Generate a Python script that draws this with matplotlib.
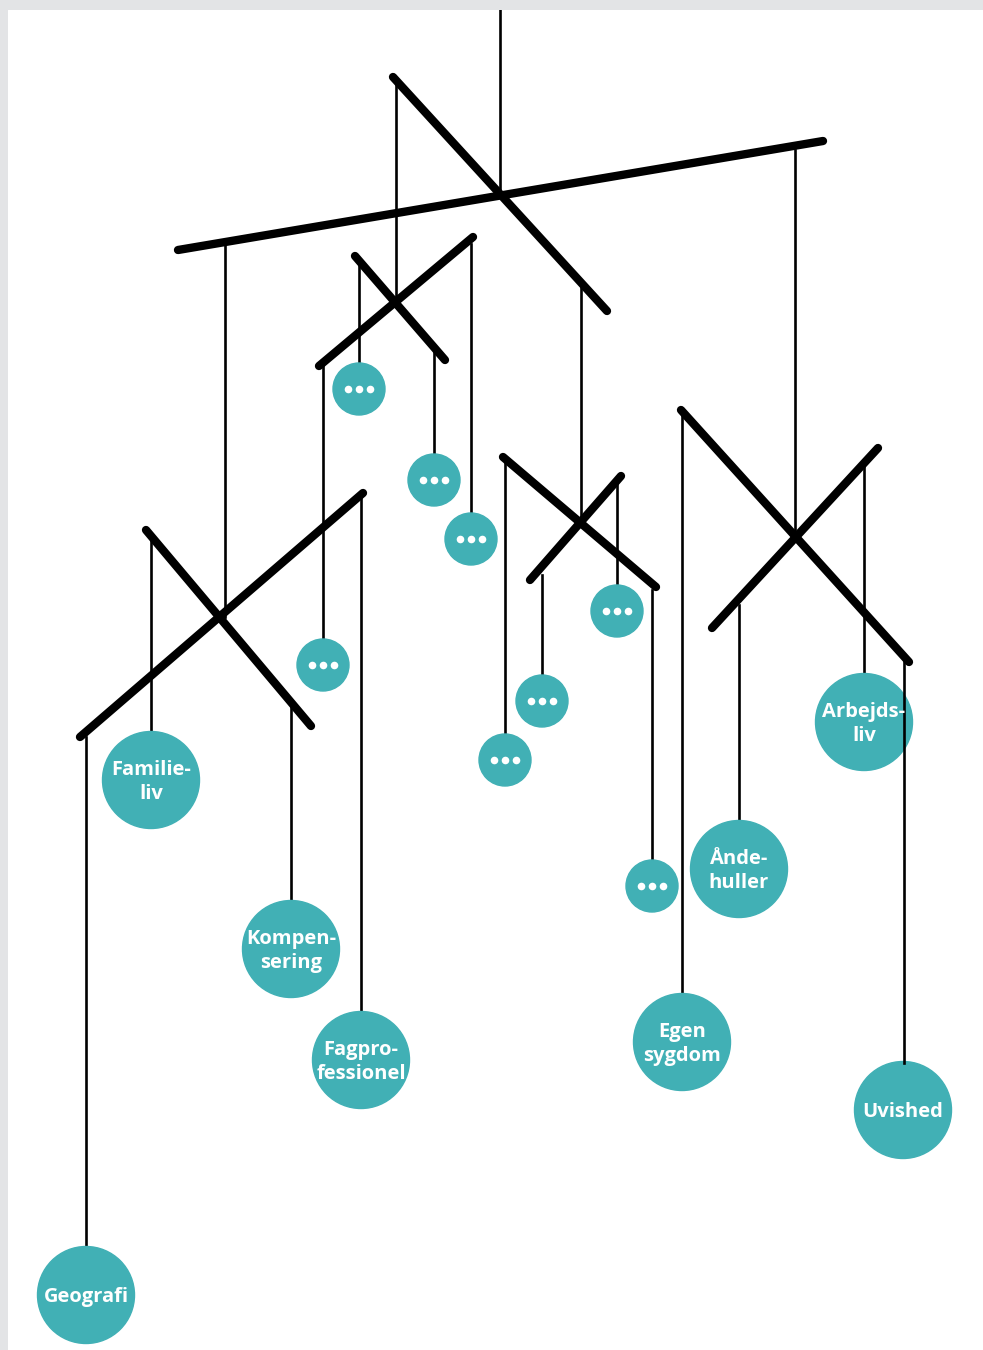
#!/usr/bin/env python3
import matplotlib.pyplot as plt
from matplotlib.patches import Circle

W, H = 983, 1350
TEAL = "#41b0b5"
GREY = "#e3e4e6"

# crossbars: (x0, y0, x1, y1) in picture pixels
bars = [
    (178, 250, 823, 141),
    (393, 77, 607, 311),
    (319, 366, 473, 237),
    (355, 256, 445, 360),
    (80, 737, 363, 493),
    (146, 530, 311, 726),
    (503, 457, 656, 587),
    (530, 580, 621, 476),
    (681, 410, 909, 662),
    (712, 628, 878, 448),
]

# hanging strings: (x, y_top, y_bottom)
strings = [
    (500, 10, 193),
    (225, 242, 617),
    (795, 150, 537),
    (396, 82, 302),
    (581, 288, 522),
    (359, 262, 389),
    (434, 352, 480),
    (471, 244, 539),
    (323, 366, 665),
    (86, 737, 1295),
    (151, 540, 780),
    (291, 706, 949),
    (361, 498, 1060),
    (505, 462, 760),
    (542, 575, 701),
    (617, 483, 611),
    (652, 590, 886),
    (682, 415, 1042),
    (739, 605, 869),
    (864, 466, 722),
]
# the Uvished string sits in front of the Arbejdsliv ball
front_strings = [(904, 655, 1063)]

labels = ["Geografi", "Familie-\nliv", "Kompen-\nsering", "Fagpro-\nfessionel",
          "Egen\nsygdom", "Ånde-\nhuller", "Arbejds-\nliv", "Uvished"]
label_x = [86, 151, 291, 361, 682, 739, 864, 903]
label_y = [1295, 780, 949, 1060, 1042, 869, 722, 1110]

dots_x = [359, 434, 471, 323, 505, 542, 617, 652]
dots_y = [389, 480, 539, 665, 760, 701, 611, 886]


def main():
    fig = plt.figure(figsize=(W / 100, H / 100), dpi=100, facecolor=GREY)
    ax = fig.add_axes([8 / W, 0, (W - 8) / W, (H - 10) / H])
    ax.set_xlim(8, W)
    ax.set_ylim(H, 10)
    ax.axis("off")
    ax.add_patch(plt.Rectangle((8, 10), W - 8, H - 10, color="white", zorder=0))

    for x, y0, y1 in strings:
        ax.plot([x, x], [y0, y1], color="black", lw=1.9, zorder=1)
    for x0, y0, x1, y1 in bars:
        ax.plot([x0, x1], [y0, y1], color="black", lw=6, solid_capstyle="round", zorder=2)

    for x, y, t in zip(label_x, label_y, labels):
        ax.add_patch(Circle((x, y), 48.5, color=TEAL, zorder=3))
        ax.text(x, y + 2, t, ha="center", va="center", color="white", fontsize=14.5,
                fontweight="bold", family="Open Sans", linespacing=1.32, zorder=5)

    for x, y in zip(dots_x, dots_y):
        ax.add_patch(Circle((x, y), 26, color=TEAL, zorder=3))
        ax.scatter([x - 11, x, x + 11], [y, y, y], s=30, color="white", zorder=4, linewidths=0)

    for x, y0, y1 in front_strings:
        ax.plot([x, x], [y0, y1], color="black", lw=1.9, zorder=4)

    fig.savefig("out.png", dpi=100, facecolor=GREY)


if __name__ == "__main__":
    main()
